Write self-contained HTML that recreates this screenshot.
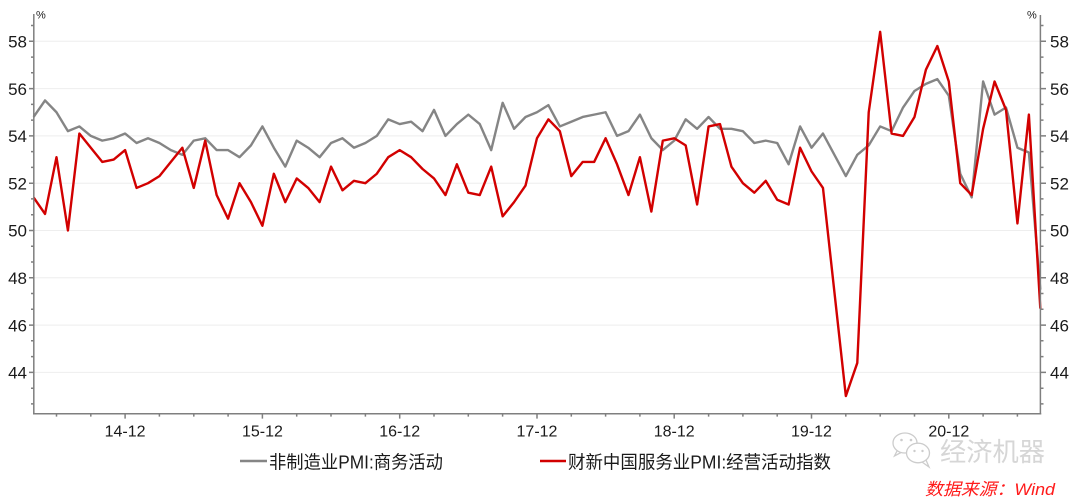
<!DOCTYPE html>
<html><head><meta charset="utf-8"><style>
html,body{margin:0;padding:0;background:#fff;}
svg{display:block;}
text{font-family:"Liberation Sans","Noto Sans CJK SC",sans-serif;}
</style></head><body>
<svg width="1080" height="499" viewBox="0 0 1080 499" xmlns="http://www.w3.org/2000/svg">
<rect width="1080" height="499" fill="#fff"/>
<!-- gridlines -->
<g stroke="#eeeeee" stroke-width="1">
<line x1="34" x2="1040" y1="41.3" y2="41.3"/>
<line x1="34" x2="1040" y1="88.6" y2="88.6"/>
<line x1="34" x2="1040" y1="135.9" y2="135.9"/>
<line x1="34" x2="1040" y1="183.2" y2="183.2"/>
<line x1="34" x2="1040" y1="230.5" y2="230.5"/>
<line x1="34" x2="1040" y1="277.8" y2="277.8"/>
<line x1="34" x2="1040" y1="325.1" y2="325.1"/>
<line x1="34" x2="1040" y1="372.4" y2="372.4"/>
</g>
<!-- series -->
<g transform="matrix(11.44 0 0 -23.65 33.6 1413)" fill="none" stroke-linejoin="round">
<polyline vector-effect="non-scaling-stroke" stroke="#858585" stroke-width="2.4" points="0,54.8 1,55.5 2,55.0 3,54.2 4,54.4 5,54.0 6,53.8 7,53.9 8,54.1 9,53.7 10,53.9 11,53.7 12,53.4 13,53.2 14,53.8 15,53.9 16,53.4 17,53.4 18,53.1 19,53.6 20,54.4 21,53.5 22,52.7 23,53.8 24,53.5 25,53.1 26,53.7 27,53.9 28,53.5 29,53.7 30,54.0 31,54.7 32,54.5 33,54.6 34,54.2 35,55.1 36,54.0 37,54.5 38,54.9 39,54.5 40,53.4 41,55.4 42,54.3 43,54.8 44,55.0 45,55.3 46,54.4 47,54.6 48,54.8 49,54.9 50,55.0 51,54.0 52,54.2 53,54.9 54,53.9 55,53.4 56,53.8 57,54.7 58,54.3 59,54.8 60,54.3 61,54.3 62,54.2 63,53.7 64,53.8 65,53.7 66,52.8 67,54.4 68,53.5 69,54.1 71,52.3 72,53.2 73,53.6 74,54.4 75,54.2 76,55.2 77,55.9 78,56.2 79,56.4 80,55.7 81,52.4 82,51.4 83,56.3 84,54.9 85,55.2 86,53.5 87,53.3 88,47.5"/>
<polyline vector-effect="non-scaling-stroke" stroke="#d20000" stroke-width="2.4" points="0,51.4 1,50.7 2,53.1 3,50.0 4,54.1 5,53.5 6,52.9 7,53.0 8,53.4 9,51.8 10,52.0 11,52.3 12,52.9 13,53.5 14,51.8 15,53.8 16,51.5 17,50.5 18,52.0 19,51.2 20,50.2 21,52.4 22,51.2 23,52.2 24,51.8 25,51.2 26,52.7 27,51.7 28,52.1 29,52.0 30,52.4 31,53.1 32,53.4 33,53.1 34,52.6 35,52.2 36,51.5 37,52.8 38,51.6 39,51.5 40,52.7 41,50.6 42,51.2 43,51.9 44,53.9 45,54.7 46,54.2 47,52.3 48,52.9 49,52.9 50,53.9 51,52.8 52,51.5 53,53.1 54,50.8 55,53.8 56,53.9 57,53.6 58,51.1 59,54.4 60,54.5 61,52.7 62,52.0 63,51.6 64,52.1 65,51.3 66,51.1 67,53.5 68,52.5 69,51.8 71,43.0 72,44.4 73,55.0 74,58.4 75,54.1 76,54.0 77,54.8 78,56.8 79,57.8 80,56.3 81,52.0 82,51.5 83,54.3 84,56.3 85,55.1 86,50.3 87,54.9 88,46.7"/>
</g>
<!-- axes -->
<g stroke="#7f7f7f" stroke-width="1.5" fill="none">
<line x1="33.8" y1="14" x2="33.8" y2="414.5"/>
<line x1="33" y1="413.8" x2="1041.2" y2="413.8"/>
<line x1="1040.4" y1="15" x2="1040.4" y2="414.5"/>
<path d="M29 41.3H34M29 88.6H34M29 135.9H34M29 183.2H34M29 230.5H34M29 277.8H34M29 325.1H34M29 372.4H34"/>
<path d="M31 25.5H34M31 57.1H34M31 72.8H34M31 104.4H34M31 120.1H34M31 151.6H34M31 167.4H34M31 198.9H34M31 214.7H34M31 246.2H34M31 262H34M31 293.5H34M31 309.3H34M31 340.8H34M31 356.6H34M31 388.2H34M31 403.9H34"/>
<path d="M1040 41.3H1046M1040 88.6H1046M1040 135.9H1046M1040 183.2H1046M1040 230.5H1046M1040 277.8H1046M1040 325.1H1046M1040 372.4H1046"/>
<path d="M1040 25.5H1043.5M1040 57.1H1043.5M1040 72.8H1043.5M1040 104.4H1043.5M1040 120.1H1043.5M1040 151.6H1043.5M1040 167.4H1043.5M1040 198.9H1043.5M1040 214.7H1043.5M1040 246.2H1043.5M1040 262H1043.5M1040 293.5H1043.5M1040 309.3H1043.5M1040 340.8H1043.5M1040 356.6H1043.5M1040 388.2H1043.5M1040 403.9H1043.5"/>
<path d="M125.1 414V418.6M262.4 414V418.6M399.7 414V418.6M537 414V418.6M674.2 414V418.6M811.5 414V418.6M948.8 414V418.6"/>
<path d="M56.5 414V416.6M90.8 414V416.6M159.4 414V416.6M193.8 414V416.6M228.1 414V416.6M296.7 414V416.6M331 414V416.6M365.4 414V416.6M434 414V416.6M468.3 414V416.6M502.6 414V416.6M571.3 414V416.6M605.6 414V416.6M639.9 414V416.6M708.6 414V416.6M742.9 414V416.6M777.2 414V416.6M845.8 414V416.6M880.2 414V416.6M914.5 414V416.6M983.1 414V416.6M1017.4 414V416.6"/>
</g>
<!-- y labels -->
<g font-size="17" fill="#1a1a1a" text-anchor="end">
<text x="27" y="47.5">58</text>
<text x="27" y="94.8">56</text>
<text x="27" y="142.1">54</text>
<text x="27" y="189.4">52</text>
<text x="27" y="236.7">50</text>
<text x="27" y="284">48</text>
<text x="27" y="331.3">46</text>
<text x="27" y="378.6">44</text>
</g>
<g font-size="17" fill="#1a1a1a" text-anchor="start">
<text x="1050" y="47.5">58</text>
<text x="1050" y="94.8">56</text>
<text x="1050" y="142.1">54</text>
<text x="1050" y="189.4">52</text>
<text x="1050" y="236.7">50</text>
<text x="1050" y="284">48</text>
<text x="1050" y="331.3">46</text>
<text x="1050" y="378.6">44</text>
</g>
<text x="36" y="18.5" font-size="11" fill="#1a1a1a">%</text>
<text x="1027" y="18.5" font-size="11" fill="#1a1a1a">%</text>
<!-- x labels -->
<g font-size="16" fill="#1a1a1a" text-anchor="middle">
<text x="125.1" y="436.7">14-12</text>
<text x="262.4" y="436.7">15-12</text>
<text x="399.7" y="436.7">16-12</text>
<text x="537" y="436.7">17-12</text>
<text x="674.2" y="436.7">18-12</text>
<text x="811.5" y="436.7">19-12</text>
<text x="948.8" y="436.7">20-12</text>
</g>
<!-- legend -->
<line x1="240" y1="461" x2="267" y2="461" stroke="#858585" stroke-width="2.4"/>
<text x="269" y="468.3" font-size="18" fill="#1a1a1a" textLength="174" lengthAdjust="spacingAndGlyphs">非制造业PMI:商务活动</text>
<line x1="540" y1="461" x2="566" y2="461" stroke="#d20000" stroke-width="2.4"/>
<text x="568" y="468.3" font-size="18" fill="#1a1a1a" textLength="263" lengthAdjust="spacingAndGlyphs">财新中国服务业PMI:经营活动指数</text>
<!-- watermark icon -->
<g stroke="#cccccc" stroke-width="1.3" fill="#fff">
<path d="M897 451 L894.5 456 L901 452.5"/>
<ellipse cx="905" cy="443" rx="12" ry="10"/>
<path d="M926 460 L929 467 L922 462"/>
<ellipse cx="918" cy="453" rx="11.5" ry="9.8"/>
</g>
<g fill="#cccccc">
<circle cx="901.5" cy="440" r="1.3"/><circle cx="911" cy="440" r="1.3"/>
<circle cx="914.5" cy="451" r="1.2"/><circle cx="922.5" cy="451" r="1.2"/>
</g>
<text x="940" y="461" font-size="26" fill="#d6d6d6" textLength="105" lengthAdjust="spacingAndGlyphs">经济机器</text>
<!-- source -->
<text x="925" y="495" font-size="17" font-style="italic" fill="#ff1a1a" textLength="130" lengthAdjust="spacingAndGlyphs">数据来源：Wind</text>
</svg>
</body></html>
